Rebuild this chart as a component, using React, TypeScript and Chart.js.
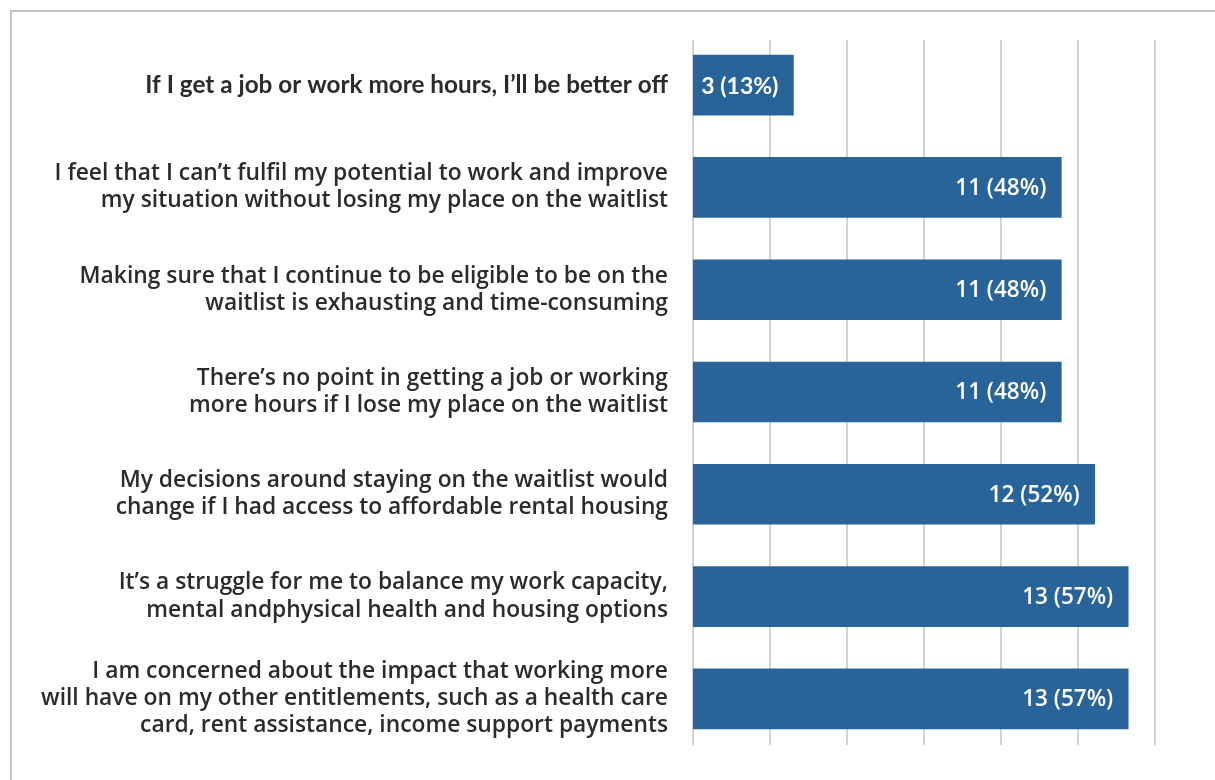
import React, { useEffect, useRef } from "react";
import { Chart, registerables } from "chart.js";

Chart.register(...registerables);

const categories: string[][] = [
  ["If I get a job or work more hours, I\u2019ll be better off"],
  ["I feel that I can\u2019t fulfil my potential to work and improve", "my situation without losing my place on the waitlist"],
  ["Making sure that I continue to be eligible to be on the", "waitlist is exhausting and time-consuming"],
  ["There\u2019s no point in getting a job or working", "more hours if I lose my place on the waitlist"],
  ["My decisions around staying on the waitlist would", "change if I had access to affordable rental housing"],
  ["It\u2019s a struggle for me to balance my work capacity,", "mental andphysical health and housing options"],
  ["I am concerned about the impact that working more", "will have on my other entitlements, such as a health care", "card, rent assistance, income support payments"],
];
const counts: number[] = [3, 11, 11, 11, 12, 13, 13];
const percents: number[] = [13.04, 47.83, 47.83, 47.83, 52.17, 56.52, 56.52];
const xTicks: number[] = [0, 10, 20, 30, 40, 50, 60];

const LATO = "Lato, 'Open Sans', sans-serif";
const GROT = "'Open Sans', Roboto, sans-serif";

const gridPlugin = {
  id: "customGrid",
  beforeDatasetsDraw(chart: any) {
    const { ctx, chartArea, scales } = chart;
    ctx.save();
    ctx.strokeStyle = "#c4c4c4";
    ctx.lineWidth = 1.5;
    for (const v of xTicks) {
      const x = scales.x.getPixelForValue(v);
      ctx.beginPath();
      ctx.moveTo(x, chartArea.top + 6);
      ctx.lineTo(x, chartArea.bottom - 5);
      ctx.stroke();
    }
    ctx.restore();
  },
};

const labelPlugin = {
  id: "barLabels",
  afterDatasetsDraw(chart: any) {
    const { ctx } = chart;
    const meta = chart.getDatasetMeta(0);
    ctx.save();
    ctx.fillStyle = "#ffffff";
    ctx.textAlign = "right";
    ctx.textBaseline = "middle";
    meta.data.forEach((bar: any, i: number) => {
      ctx.font = i === 0 ? `700 23px ${LATO}` : `600 22.5px ${GROT}`;
      const text = `${counts[i]} (${Math.round(percents[i])}%)`;
      ctx.fillText(text, bar.x - 15, bar.y + 1);
    });
    ctx.restore();
  },
};

export default function App() {
  const canvasRef = useRef<HTMLCanvasElement | null>(null);

  useEffect(() => {
    if (!canvasRef.current) return;
    const chart = new Chart(canvasRef.current, {
      type: "bar",
      data: {
        labels: categories,
        datasets: [
          {
            data: percents,
            backgroundColor: "#286499",
            barThickness: 60,
            borderWidth: 0,
          },
        ],
      },
      options: {
        indexAxis: "y",
        animation: false,
        responsive: false,
        maintainAspectRatio: false,
        layout: { padding: { top: 34, bottom: 30, right: 60, left: 0 } },
        plugins: {
          legend: { display: false },
          tooltip: { enabled: false },
        },
        scales: {
          x: {
            display: false,
            min: 0,
            max: 60,
          },
          y: {
            afterFit(scale: any) {
              scale.width = 693;
              scale.paddingTop = 0;
              scale.paddingBottom = 0;
            },
            grid: { display: false },
            border: { display: false },
            ticks: {
              padding: 17,
              color: "#2b2b2b",
              font: (c: any) =>
                c.index === 0
                  ? { family: LATO, size: 24.3, weight: "bold", lineHeight: 1.13 }
                  : { family: GROT, size: 22.8, weight: "600", lineHeight: 1.19 },
            },
          },
        },
      },
      plugins: [gridPlugin, labelPlugin],
    });
    return () => chart.destroy();
  }, []);

  return (
    <div style={{ position: "absolute", left: 0, top: 0, width: 1215, height: 780, background: "#ffffff", overflow: "hidden" }}>
      <div
        style={{
          position: "absolute",
          left: 10,
          top: 10,
          width: 1300,
          height: 900,
          borderTop: "2px solid #c4c4c4",
          borderLeft: "2px solid #c4c4c4",
        }}
      />
      <canvas ref={canvasRef} width={1215} height={780} style={{ position: "absolute", left: 0, top: 0 }} />
    </div>
  );
}
